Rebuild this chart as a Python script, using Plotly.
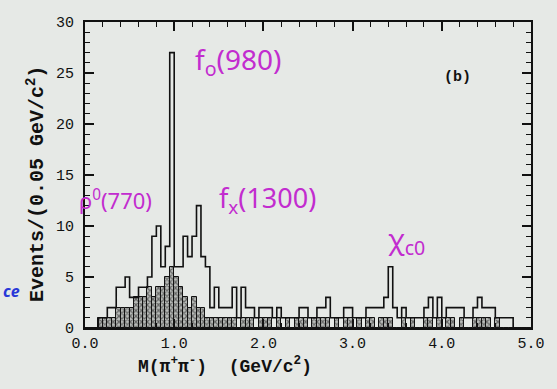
import numpy as np
import plotly.graph_objects as go

# Histogram of M(pi+ pi-), 0.05 GeV/c^2 bins from 0.0 to 5.0 GeV/c^2
bin_width = 0.05
bin_edges = np.round(np.arange(0, 5.0 + bin_width / 2, bin_width), 3)
bin_centers = bin_edges[:-1] + bin_width / 2

# All events (open histogram), one entry per bin starting at 0.00
events_all = [
    0, 0, 0, 1, 1, 2, 2, 4, 4, 5,        # 0.00 - 0.45
    3, 3, 4, 4, 5, 9, 10, 6, 8, 27,      # 0.50 - 0.95
    6, 6, 9, 7, 9, 12, 7, 6, 2, 4,       # 1.00 - 1.45
    2, 2, 2, 4, 1, 4, 2, 2, 1, 2,        # 1.50 - 1.95
    2, 2, 1, 2, 1, 1, 1, 1, 2, 2,        # 2.00 - 2.45
    1, 1, 2, 2, 3, 1, 1, 1, 2, 2,        # 2.50 - 2.95
    1, 1, 1, 2, 2, 2, 2, 3, 6, 2,        # 3.00 - 3.45
    1, 2, 1, 1, 1, 1, 2, 3, 1, 3,        # 3.50 - 3.95
    1, 2, 2, 2, 2, 1, 1, 2, 3, 2,        # 4.00 - 4.45
    2, 2, 1, 1, 1, 1, 0, 0, 0, 0,        # 4.50 - 4.95
]

# Shaded (hatched) subsample
events_shaded = [
    0, 0, 0, 1, 1, 1, 1, 2, 2, 2,
    2, 3, 3, 3, 4, 3, 4, 4, 5, 6,
    5, 4, 3, 2, 3, 2, 2, 1, 1, 1,
    1, 1, 1, 1, 0, 1, 1, 1, 0, 1,
    1, 1, 0, 1, 0, 1, 0, 1, 1, 1,
    0, 1, 1, 1, 1, 0, 1, 0, 1, 1,
    0, 1, 0, 1, 1, 0, 1, 1, 1, 0,
    0, 1, 0, 1, 0, 0, 1, 1, 0, 1,
    0, 1, 1, 0, 1, 0, 0, 1, 1, 1,
    1, 0, 1, 0, 0, 0, 0, 0, 0, 0,
]

x_ticks = [0.0, 1.0, 2.0, 3.0, 4.0, 5.0]
y_ticks = [0, 5, 10, 15, 20, 25, 30]

ink = "#111111"
magenta = "#c22ccf"
bg = "#e6e9e6"
mono = "Liberation Mono"

fig = go.Figure()

# Hatched histogram
fig.add_trace(go.Bar(
    x=bin_centers, y=events_shaded, width=bin_width,
    marker=dict(
        color="#9a9d9a",
        line=dict(color=ink, width=1),
        pattern=dict(shape="x", fgcolor=ink, bgcolor="#b8bbb8",
                     size=4, solidity=0.5),
    ),
    showlegend=False, hoverinfo="skip",
))

# Open histogram as a step outline over the bin edges
step_y = list(events_all) + [events_all[-1]]
fig.add_trace(go.Scatter(
    x=bin_edges, y=step_y, mode="lines", line_shape="hv",
    line=dict(color=ink, width=1.6),
    showlegend=False, hoverinfo="skip",
))

axis_common = dict(
    showline=True, linecolor=ink, linewidth=2, mirror="ticks",
    ticks="inside", ticklen=9, tickwidth=1.5, tickcolor=ink,
    showgrid=False, zeroline=False,
    tickfont=dict(family=mono, size=15, color=ink),
)

fig.update_xaxes(
    range=[0, 5.0], tickvals=x_ticks, ticktext=[f"{v:.1f}" for v in x_ticks],
    minor=dict(dtick=0.2, ticks="inside", ticklen=5, tickcolor=ink, tickwidth=1.2),
    **axis_common,
)
fig.update_yaxes(
    range=[0, 30], tickvals=y_ticks, ticktext=[str(v) for v in y_ticks],
    minor=dict(dtick=1, ticks="inside", ticklen=5, tickcolor=ink, tickwidth=1.2),
    ticklabelstandoff=6,
    **axis_common,
)

annotations = [
    # axis titles
    dict(text="<b>Events/(0.05 GeV/c<sup>2</sup>)</b>", xref="paper", yref="paper",
         x=-0.11, y=0.47, xanchor="center", yanchor="middle", textangle=-90,
         showarrow=False, font=dict(family=mono, size=20, color=ink)),
    dict(text="<b>M(\u03c0<sup>+</sup>\u03c0<sup>-</sup>)\u00a0\u00a0(GeV/c<sup>2</sup>)</b>",
         xref="paper", yref="paper", x=0.313, y=-0.122,
         xanchor="center", yanchor="middle", showarrow=False,
         font=dict(family=mono, size=18, color=ink)),
    # panel label
    dict(text="<b>(b)</b>", x=4.18, y=24.6, showarrow=False,
         font=dict(family=mono, size=15, color=ink)),
    # resonance labels
    dict(text="f<sub>o</sub>(980)", x=1.72, y=26.2, showarrow=False,
         font=dict(family="Noto Sans", size=28, color=magenta)),
    dict(text="\u03c1<sup>0</sup>(770)", x=0.34, y=12.6, showarrow=False,
         font=dict(family="Noto Sans", size=22, color=magenta)),
    dict(text="f<sub>x</sub>(1300)", x=2.05, y=12.6, showarrow=False,
         font=dict(family="Noto Sans", size=27, color=magenta)),
    dict(text="\u03c7<sub>c0</sub>", x=3.6, y=8.6, showarrow=False,
         font=dict(family="Noto Sans", size=28, color=magenta)),
    # stray margin note
    dict(text="<i><b>ce</b></i>", xref="paper", yref="paper", x=-0.165, y=0.12,
         xanchor="center", yanchor="middle", showarrow=False,
         font=dict(family="Noto Sans", size=16, color="#2838d8")),
]

fig.update_layout(
    width=557, height=389,
    margin=dict(l=85, r=21, t=22, b=61),
    paper_bgcolor=bg, plot_bgcolor=bg,
    bargap=0, barmode="overlay",
    annotations=annotations,
)

fig.write_html("out.html")
